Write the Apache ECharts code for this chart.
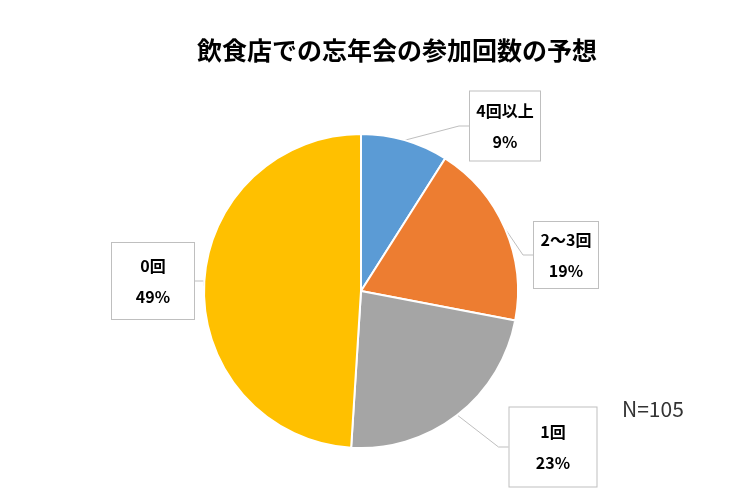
<!DOCTYPE html>
<html>
<head>
<meta charset="utf-8">
<script src="https://cdn.jsdelivr.net/npm/echarts@6/dist/echarts.min.js"></script>
<style>
html,body{margin:0;padding:0;background:#fff;}
#chart{width:750px;height:500px;}
</style>
</head>
<body>
<div id="chart"></div>
<script>
const titleText = '飲食店での忘年会の参加回数の予想';
const categories = ['4回以上', '2～3回', '1回', '0回'];
const values = [9, 19, 23, 49];
const colors = ['#5B9BD5', '#ED7D31', '#A5A5A5', '#FFC000'];
const sampleLabel = 'N=105';

// label box placement (layout only)
const boxLayout = [
  { cx: 505, cy: 126, w: 70, h: 69 },
  { cx: 566, cy: 255, w: 64, h: 66 },
  { cx: 553, cy: 447, w: 87, h: 79 },
  { cx: 153, cy: 281, w: 82, h: 76 }
];

const fontFam = '"Noto Sans CJK JP", "Noto Sans", sans-serif';

const chart = echarts.init(document.getElementById('chart'));
const data = categories.map(function (name, i) {
  const b = boxLayout[i];
  const lh = 31;
  const padV = Math.max(0, (b.h - 2 * lh) / 2);
  return {
    name: name,
    value: values[i],
    itemStyle: { color: colors[i] },
    label: {
      width: b.w,
      padding: [padV, 0, padV, 0],
      lineHeight: lh
    }
  };
});

chart.setOption({
  backgroundColor: '#ffffff',
  animation: false,
  title: {
    text: titleText,
    left: 192,
    top: 33,
    textStyle: { fontFamily: fontFam, fontSize: 25, fontWeight: 'bold', color: '#000' }
  },
  graphic: [{
    type: 'text',
    left: 622,
    top: 399,
    style: { text: sampleLabel, fontFamily: fontFam, fontSize: 21, fill: '#333' }
  }],
  series: [{
    type: 'pie',
    center: [361, 291],
    radius: [0, 157],
    startAngle: 90,
    clockwise: true,
    data: data,
    itemStyle: { borderColor: '#fff', borderWidth: 2 },
    label: {
      show: true,
      formatter: '{b}\n{c}%',
      fontFamily: fontFam,
      fontSize: 16,
      fontWeight: 'bold',
      color: '#000',
      align: 'center',
      backgroundColor: '#fff',
      borderColor: '#bfbfbf',
      borderWidth: 1
    },
    labelLine: {
      show: true,
      length: 10,
      length2: 10,
      lineStyle: { color: '#bfbfbf', width: 1 }
    },
    labelLayout: function (params) {
      const b = boxLayout[params.dataIndex];
      return {
        x: b.cx,
        y: b.cy,
        align: 'center',
        verticalAlign: 'middle'
      };
    }
  }]
});
</script>
</body>
</html>
